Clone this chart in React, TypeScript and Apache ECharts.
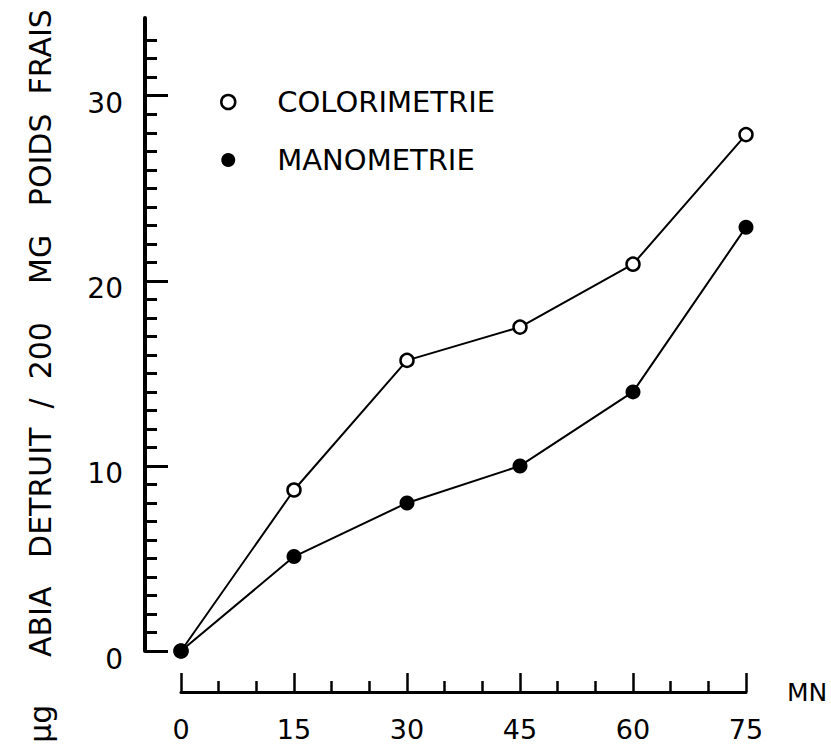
import React, { useEffect, useRef } from "react";
import * as echarts from "echarts";

// Time (MN)
const minutes = [0, 15, 30, 45, 60, 75];
// µg ABIA détruit / 200 mg poids frais
const colorimetrie = [0, 8.7, 15.7, 17.5, 20.9, 27.9];
const manometrie = [0, 5.1, 8.0, 10.0, 14.0, 22.9];

const seriesNames = ["COLORIMETRIE", "MANOMETRIE"];
const yMajorTicks = [0, 10, 20, 30];
const yMinorTicks = [
  0, 1, 2, 3, 4, 5, 6, 7, 8, 9, 10, 11, 12, 13, 14, 15, 16, 17, 18, 19, 20,
  21, 22, 23, 24, 25, 26, 27, 28, 29, 30, 31, 32, 33,
];
const xTickStep = 15;
const xMax = 75;
const yMax = 34.2;
const xName = "MN";
const sp = (n: number) => "\u00a0".repeat(n);
const yTitle =
  "µg" + sp(5) + "ABIA" + sp(3) + "DETRUIT" + sp(2) + "/" + sp(2) + "200" + sp(4) +
  "MG" + sp(3) + "POIDS" + sp(2) + "FRAIS";

const FONT = "DejaVu Sans";

export default function App() {
  const ref = useRef<HTMLDivElement>(null);

  useEffect(() => {
    if (!ref.current) return;
    const chart = echarts.init(ref.current, undefined, { renderer: "svg" });

    const pairs = (vals: number[]) => minutes.map((m, i) => [m, vals[i]]);

    const option: any = {
      animation: false,
      backgroundColor: "#ffffff",
      grid: { left: 181, right: 85, top: 18, bottom: 95, containLabel: false },
      legend: {
        orient: "vertical",
        left: 220,
        top: 87,
        padding: 0,
        itemWidth: 88,
        itemHeight: 14,
        itemGap: 28,
        selectedMode: false,
        textStyle: { fontFamily: FONT, fontSize: 29, lineHeight: 30, color: "#000" },
        data: [
          {
            name: seriesNames[0],
            icon: "circle",
            itemStyle: { color: "#fff", borderColor: "#000", borderWidth: 2.5 },
          },
          { name: seriesNames[1], icon: "circle", itemStyle: { color: "#000", borderWidth: 0 } },
        ],
      },
      xAxis: {
        type: "value",
        min: 0,
        max: xMax,
        interval: xTickStep,
        position: "bottom",
        offset: 41,
        name: xName,
        nameLocation: "end",
        nameGap: 41,
        nameTextStyle: { fontFamily: FONT, fontSize: 25, color: "#000", verticalAlign: "middle" },
        axisLine: { show: true, onZero: false, lineStyle: { color: "#000", width: 3 } },
        axisTick: { show: true, inside: true, length: 19, lineStyle: { color: "#000", width: 2.5 } },
        minorTick: { show: true, splitNumber: 3, length: 11, lineStyle: { color: "#000", width: 2.5 } },
        axisLabel: {
          fontFamily: FONT,
          fontSize: 27,
          lineHeight: 24,
          color: "#000",
          margin: 25,
        },
        splitLine: { show: false },
        minorSplitLine: { show: false },
      },
      yAxis: [
        {
          type: "value",
          min: 0,
          max: yMax,
          position: "left",
          offset: 36,
          axisLine: { show: true, onZero: false, lineStyle: { color: "#000", width: 4 } },
          axisTick: {
            show: true,
            inside: true,
            length: 12,
            customValues: yMinorTicks,
            lineStyle: { color: "#000", width: 3 },
          },
          axisLabel: { show: false },
          splitLine: { show: false },
        },
        {
          type: "value",
          min: 0,
          max: yMax,
          position: "left",
          offset: 36,
          axisLine: { show: false, onZero: false },
          axisTick: {
            show: true,
            inside: true,
            length: 23,
            customValues: yMajorTicks,
            lineStyle: { color: "#000", width: 3 },
          },
          axisLabel: {
            show: true,
            customValues: yMajorTicks,
            fontFamily: FONT,
            fontSize: 28,
            color: "#000",
            margin: 22,
            verticalAlign: "top",
            lineHeight: 16,
          },
          splitLine: { show: false },
        },
      ],
      graphic: [
        {
          type: "text",
          x: 40,
          y: 376,
          rotation: Math.PI / 2,
          style: {
            text: yTitle,
            fontFamily: FONT,
            fontSize: 30,
            fill: "#000",
            textAlign: "center",
            textVerticalAlign: "middle",
          },
        },
      ],
      series: [
        {
          name: seriesNames[0],
          type: "line",
          data: pairs(colorimetrie),
          yAxisIndex: 0,
          clip: false,
          symbol: "circle",
          symbolSize: 13,
          lineStyle: { color: "#000", width: 2 },
          itemStyle: { color: "#fff", borderColor: "#000", borderWidth: 2.5 },
          z: 3,
        },
        {
          name: seriesNames[1],
          type: "line",
          data: pairs(manometrie),
          yAxisIndex: 0,
          clip: false,
          symbol: "circle",
          symbolSize: 15,
          lineStyle: { color: "#000", width: 2 },
          itemStyle: { color: "#000", borderWidth: 0 },
          z: 4,
        },
      ],
    };

    chart.setOption(option);
    return () => chart.dispose();
  }, []);

  return (
    <div
      ref={ref}
      style={{ position: "fixed", left: 0, top: 0, width: 831, height: 746, background: "#fff" }}
    />
  );
}
